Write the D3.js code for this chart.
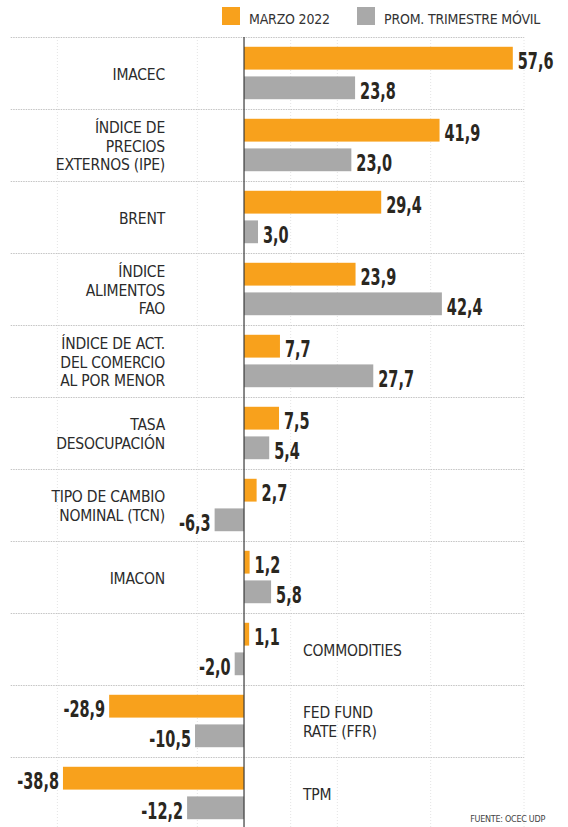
<!DOCTYPE html>
<html lang="es">
<head>
  <meta charset="UTF-8">
  <title>Indicadores - marzo 2022</title>
  <script src="https://d3js.org/d3.v7.min.js"></script>
  <style>
    body { margin: 0; background: #fff; }
    text { font-family: "Liberation Sans Narrow", "Arial Narrow", "DejaVu Sans Condensed", sans-serif; }
    .cat { font-size: 15.5px; fill: #2b2b2b; letter-spacing: -0.2px; }
    .legend text { font-size: 14px; fill: #333; letter-spacing: -0.2px; }
    .val { font-size: 23px; font-weight: bold; fill: #2a271f; }
    .sep { stroke: #c4c4c4; stroke-width: 1; stroke-dasharray: 1.5,1; }
    .grid { stroke: #e4e4e4; stroke-width: 1; stroke-dasharray: 1,2; }
    .zero { stroke: #3a3a3a; stroke-width: 1.2; }
    .source { font-size: 9px; fill: #444; letter-spacing: -0.3px; }
  </style>
</head>
<body>
  <svg width="568" height="827"></svg>
  <script>
    // datos
    var categories = [
      "IMACEC",
      "ÍNDICE DE|PRECIOS|EXTERNOS (IPE)",
      "BRENT",
      "ÍNDICE|ALIMENTOS|FAO",
      "ÍNDICE DE ACT.|DEL COMERCIO|AL POR MENOR",
      "TASA|DESOCUPACIÓN",
      "TIPO DE CAMBIO|NOMINAL (TCN)",
      "IMACON",
      "COMMODITIES",
      "FED FUND|RATE (FFR)",
      "TPM"
    ];
    var marzo2022 = [57.6, 41.9, 29.4, 23.9, 7.7, 7.5, 2.7, 1.2, 1.1, -28.9, -38.8];
    var promMovil = [23.8, 23.0, 3.0, 42.4, 27.7, 5.4, -6.3, 5.8, -2.0, -10.5, -12.2];
    var seriesNames = ["MARZO 2022", "PROM. TRIMESTRE MÓVIL"];
    var rightLabeled = ["COMMODITIES", "FED FUND|RATE (FFR)", "TPM"];
    var gridTicks = [-40, -10, 10, 20, 40, 60];
    var colors = ["#f8a11c", "#a9a9a9"];

    var svg = d3.select("svg"),
        width = +svg.attr("width"),
        height = +svg.attr("height"),
        chartTop = 37,
        rowH = 72,
        valScale = 0.7;   // numeros condensados

    var locale = d3.formatLocale({decimal: ",", thousands: ".", grouping: [3], currency: ["$", ""], minus: "-"});
    var fmt = locale.format(".1f");

    var x = d3.scaleLinear().domain([-50, 60]).range([10.7, 524]);
    var y0 = d3.scaleBand().domain(categories).range([chartTop, chartTop + rowH * categories.length]);
    var y1 = d3.scaleBand().domain(seriesNames).range([0, y0.bandwidth()])
               .paddingInner(0.23).paddingOuter(0.33);
    var color = d3.scaleOrdinal().domain(seriesNames).range(colors);

    var rows = categories.map(function(c, i) {
      return {cat: c, values: [
        {key: seriesNames[0], value: marzo2022[i]},
        {key: seriesNames[1], value: promMovil[i]}
      ]};
    });

    // leyenda
    var legend = svg.append("g").attr("class", "legend");
    var lx = [222, 357];
    seriesNames.forEach(function(s, i) {
      legend.append("rect")
        .attr("x", lx[i]).attr("y", 7)
        .attr("width", 18).attr("height", 18)
        .attr("fill", color(s));
      legend.append("text")
        .attr("x", lx[i] + 27).attr("y", 23.5)
        .text(s);
    });

    // grilla
    svg.append("g").selectAll("line")
      .data(gridTicks)
      .enter().append("line")
      .attr("class", "grid")
      .attr("x1", function(d) { return x(d); })
      .attr("x2", function(d) { return x(d); })
      .attr("y1", chartTop).attr("y2", height);

    // separadores
    svg.append("g").selectAll("line")
      .data(categories)
      .enter().append("line")
      .attr("class", "sep")
      .attr("x1", x.range()[0]).attr("x2", x.range()[1])
      .attr("y1", function(d) { return y0(d) + 0.5; })
      .attr("y2", function(d) { return y0(d) + 0.5; });

    var row = svg.selectAll(".row")
      .data(rows)
      .enter().append("g")
      .attr("class", "row")
      .attr("transform", function(d) { return "translate(0," + y0(d.cat) + ")"; });

    row.selectAll("rect")
      .data(function(d) { return d.values; })
      .enter().append("rect")
      .attr("x", function(d) { return x(Math.min(0, d.value)); })
      .attr("y", function(d) { return y1(d.key); })
      .attr("width", function(d) { return Math.abs(x(d.value) - x(0)); })
      .attr("height", y1.bandwidth())
      .attr("fill", function(d) { return color(d.key); });

    row.selectAll(".val")
      .data(function(d) { return d.values; })
      .enter().append("g")
      .attr("class", "val")
      .attr("transform", function(d) {
        var tx = d.value < 0 ? x(d.value) - 4 : x(d.value) + 5,
            ty = y1(d.key) + y1.bandwidth() - 0.5;
        return "translate(" + tx + "," + ty + ") scale(" + valScale + ",1)";
      })
      .append("text")
      .attr("text-anchor", function(d) { return d.value < 0 ? "end" : "start"; })
      .text(function(d) { return fmt(d.value); });

    // etiquetas de categoria
    var lineH = 18.5;
    row.append("text")
      .attr("class", "cat")
      .attr("text-anchor", function(d) { return rightLabeled.indexOf(d.cat) >= 0 ? "start" : "end"; })
      .each(function(d) {
        var lines = d.cat.split("|"),
            t = d3.select(this),
            tx = rightLabeled.indexOf(d.cat) >= 0 ? 303 : 165,
            first = rowH / 2 + 6.5 - (lines.length - 1) * lineH / 2;
        lines.forEach(function(l, i) {
          t.append("tspan").attr("x", tx).attr("y", first + i * lineH).text(l);
        });
      });

    // eje cero
    svg.append("line")
      .attr("class", "zero")
      .attr("x1", x(0)).attr("x2", x(0))
      .attr("y1", chartTop).attr("y2", height);

    svg.append("text")
      .attr("class", "source")
      .attr("x", 545).attr("y", 822)
      .attr("text-anchor", "end")
      .text("FUENTE: OCEC UDP");
  </script>
</body>
</html>
